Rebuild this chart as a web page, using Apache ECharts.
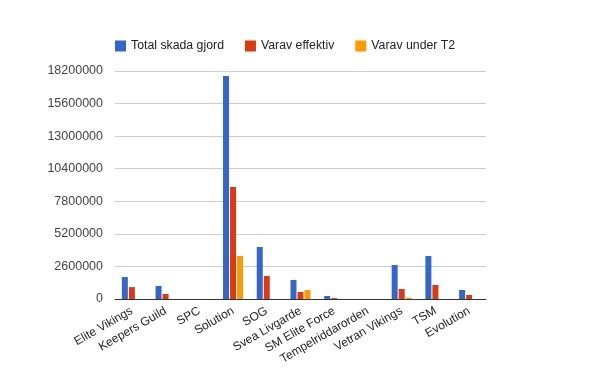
<!DOCTYPE html>
<html>
<head>
<meta charset="utf-8">
<script src="https://cdn.jsdelivr.net/npm/echarts@6/dist/echarts.min.js"></script>
<style>html,body{margin:0;padding:0;background:#fff;}#c{width:600px;height:371px;}</style>
</head>
<body>
<div id="c"></div>
<script>
const categories = ['Elite Vikings','Keepers Guild','SPC','Solution','SOG','Svea Livgarde','SM Elite Force','Tempelriddarorden','Vetran Vikings','TSM','Evolution'];
const totalSkada = [1750000, 1040000, 0, 17800000, 4150000, 1520000, 240000, 0, 2710000, 3430000, 720000];
const varavEffektiv = [950000, 400000, 0, 8940000, 1840000, 560000, 70000, 0, 800000, 1120000, 320000];
const varavT2 = [0, 0, 0, 3430000, 0, 720000, 0, 0, 100000, 0, 0];
const yTicks = {min: 0, max: 18200000, interval: 2600000};

const chart = echarts.init(document.getElementById('c'), null, {renderer: 'canvas'});
const font = 'Arial, "Liberation Sans", sans-serif';
const mk = (name, data, color) => ({
  name, type: 'bar', data, barWidth: 6, barGap: '17%',
  itemStyle: {color}, emphasis: {disabled: true}
});
chart.setOption({
  animation: false,
  legend: {
    top: 35, left: 110, itemWidth: 11, itemHeight: 11, itemGap: 21,
    icon: 'rect',
    textStyle: {fontFamily: font, fontSize: 12.3, color: '#222'},
    data: ['Total skada gjord', 'Varav effektiv', 'Varav under T2']
  },
  grid: {left: 115, right: 114, top: 71, bottom: 72, containLabel: false},
  xAxis: {
    type: 'category', data: categories,
    axisLine: {lineStyle: {color: '#333', width: 1}},
    axisTick: {show: false},
    axisLabel: {rotate: 30, interval: 0, margin: 11, fontFamily: font, fontSize: 12, color: '#222'}
  },
  yAxis: {
    type: 'value', min: yTicks.min, max: yTicks.max, interval: yTicks.interval,
    axisLine: {show: false}, axisTick: {show: false},
    splitLine: {lineStyle: {color: '#ccc'}},
    axisLabel: {margin: 12, fontFamily: font, fontSize: 12.5, color: '#444', formatter: v => String(v)}
  },
  series: [
    mk('Total skada gjord', totalSkada, '#3366cc'),
    mk('Varav effektiv', varavEffektiv, '#dc3912'),
    mk('Varav under T2', varavT2, '#ff9900')
  ]
});
</script>
</body>
</html>
